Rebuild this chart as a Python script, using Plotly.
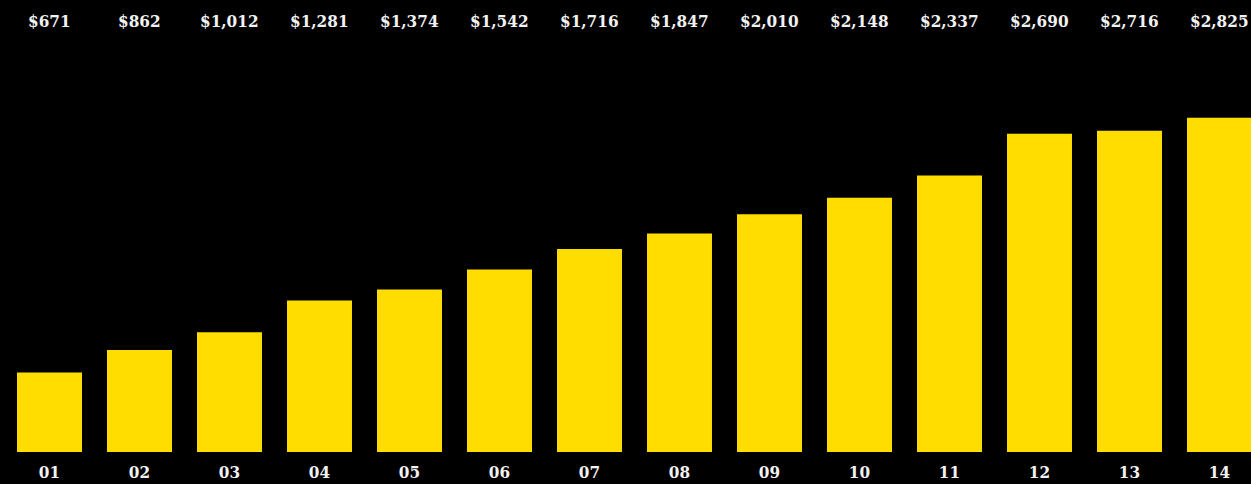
import plotly.graph_objects as go

categories = ["01", "02", "03", "04", "05", "06", "07", "08", "09", "10", "11", "12", "13", "14"]
values = [671, 862, 1012, 1281, 1374, 1542, 1716, 1847, 2010, 2148, 2337, 2690, 2716, 2825]
value_labels = ["$" + f"{v:,}" for v in values]

FONT = "DejaVu Serif Condensed, DejaVu Sans Condensed, serif"

fig = go.Figure()
fig.add_trace(go.Bar(
    x=list(range(len(categories))), y=values,
    marker=dict(color="#FFDD00", line=dict(width=0)),
    width=0.722,
    hoverinfo="skip",
))

for i, t in enumerate(value_labels):
    fig.add_annotation(x=i, y=1 - 21 / 452, xref="x", yref="paper",
                       text=t, showarrow=False, yanchor="middle", xanchor="center",
                       font=dict(family=FONT, size=17, color="#F2F2F2", weight="bold"))

fig.update_layout(
    width=1251, height=484,
    margin=dict(l=0, r=0, t=0, b=32, pad=0, autoexpand=False),
    paper_bgcolor="black", plot_bgcolor="black",
    showlegend=False,
    xaxis=dict(range=[-0.55, 13.35], showgrid=False, zeroline=False, automargin=False,
               tickmode="array", tickvals=list(range(len(categories))), ticktext=categories,
               showline=False, ticks="outside", ticklen=5, tickcolor="black",
               tickfont=dict(family=FONT, size=17, color="#F2F2F2", weight="bold")),
    yaxis=dict(range=[0, 3820], visible=False, showgrid=False, zeroline=False, automargin=False),
)

fig.write_html("out.html")
